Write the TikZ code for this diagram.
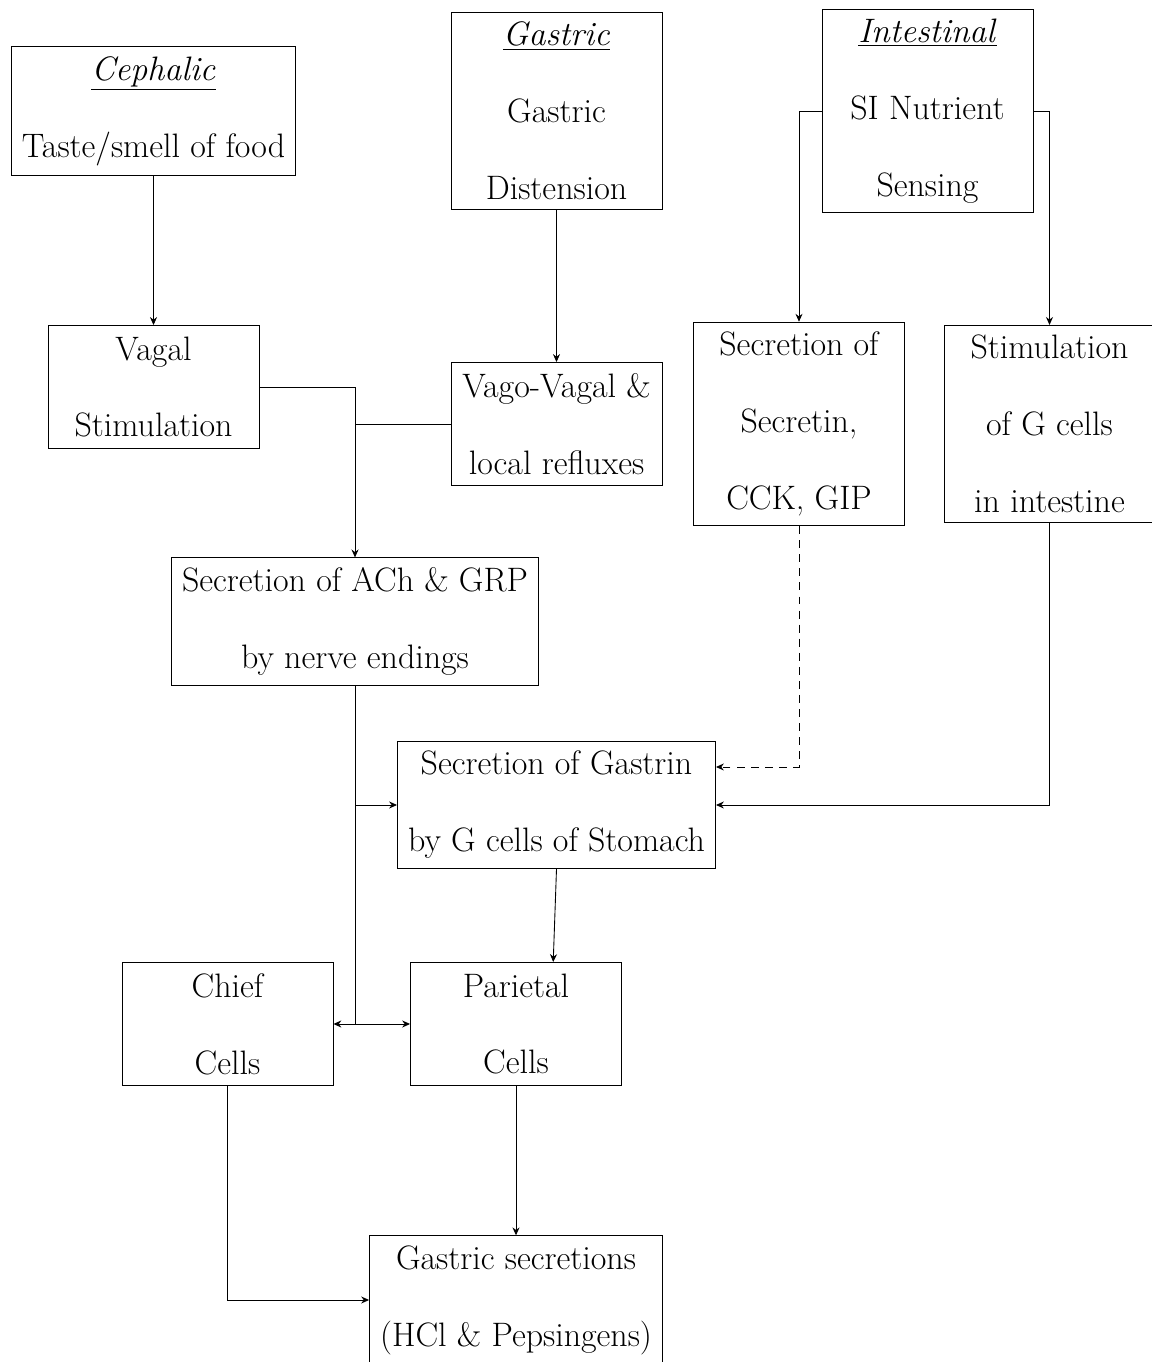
\documentclass[tikz,border=0pt]{standalone}
\usepackage{tikz}
\usetikzlibrary{
    arrows.meta,
    positioning,
    calc
}

\begin{document}
\begin{tikzpicture}[
        box/.style={rectangle, draw, minimum width=4.22cm, minimum height=2.46cm, inner xsep=6pt, inner ysep=5.5pt, align=center, font=\fontsize{19.3}{43.8}\selectfont},
        arrow/.style={-{Stealth[length=4.5pt, width=4pt]}},
        line width=0.5pt
    ]
        \useasboundingbox (0,0) rectangle (23.02,27.24);

        % Row 1: Phases (top)
        \node[box] (ceph) at (3.07,25.02) {\underline{\textit{Cephalic}}\\Taste/smell of food};
        \node[box] (gast) at (11.13,25.02) {\underline{\textit{Gastric}}\\Gastric\\Distension};
        \node[box] (intest) at (18.55,25.02) {\underline{\textit{Intestinal}}\\SI Nutrient\\Sensing};

        % Row 2: Stimuli
        \node[box] (vagal) at (3.07,19.50) {Vagal\\Stimulation};
        \node[box] (vago) at (11.13,18.76) {Vago-Vagal \&\\local refluxes};
        \node[box] (secr) at (15.98,18.76) {Secretion of\\Secretin,\\CCK, GIP};
        \node[box] (stim) at (20.99,18.76) {Stimulation\\of G cells\\in intestine};

        % Row 3: Mediators
        \node[box] (ach) at (7.10,14.81) {Secretion of ACh \& GRP\\by nerve endings};
        \node[box] (gastrin) at (11.13,11.14) {Secretion of Gastrin\\by G cells of Stomach};

        % Row 4: Cells
        \node[box] (chief) at (4.55,6.76) {Chief\\Cells};
        \node[box] (pariet) at (10.32,6.76) {Parietal\\Cells};

        % Row 5: Output (bottom)
        \node[box] (secret) at (10.32,1.24) {Gastric secretions\\(HCl \& Pepsingens)};

        % Arrows - phases to stimuli
        \draw[arrow] (ceph) -- (vagal);
        \draw[arrow] (gast) -- (vago);
        \draw[arrow] (intest.west) -| (secr.north);
        \draw[arrow] (intest.east) -| (stim.north);

        % Nerve path - vagal and local reflexes join
        \draw[arrow] (vagal.east) -| (ach.north);
        \draw (vago.west) -- (vago.west -| ach.north);

        % ACh trunk down to the cells
        \coordinate (tap) at (ach.south |- gastrin.west);
        \coordinate (hub) at (ach.south |- chief.east);
        \draw (ach.south) -- (hub);
        \draw[arrow] (tap) -- (gastrin.west);
        \draw[arrow] (hub) -- (chief.east);
        \draw[arrow] (hub) -- (pariet.west);

        % Intestinal inputs to gastrin
        \draw[arrow, dash pattern=on 4.5pt off 3.5pt] (secr.south) |- ([yshift=0.76cm]gastrin.east);
        \draw[arrow] (stim.south) |- (gastrin.east);

        % Cells to secretions
        \draw[arrow] (gastrin.south) -- (pariet.59);
        \draw[arrow] (pariet) -- (secret);
        \draw[arrow] (chief.south) |- (secret.west);
    \end{tikzpicture}
\end{document}
